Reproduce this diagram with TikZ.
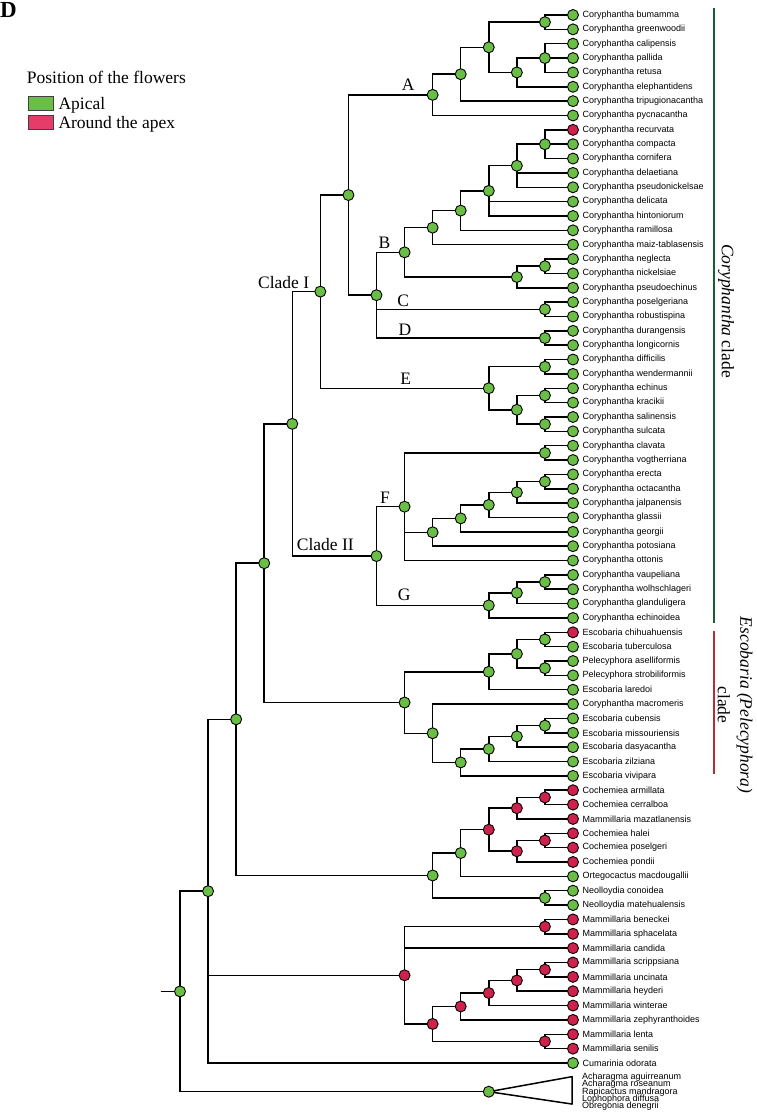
\documentclass[tikz,border=0pt]{standalone}
\usepackage{fontspec}
\setmainfont{Liberation Serif}
\newfontfamily\leaffont{Liberation Sans}
\usetikzlibrary{positioning,backgrounds}

\definecolor{apgreen}{RGB}{106,189,69}
\definecolor{apred}{RGB}{206,33,76}
\definecolor{keyred}{RGB}{230,60,105}
\definecolor{corygreen}{RGB}{26,94,56}
\definecolor{escored}{RGB}{183,45,55}

\tikzset{
  apical/.style={circle, draw=black, line width=0.9pt, fill=apgreen, minimum size=11pt, inner sep=0pt},
  apex/.style={apical, fill=apred},
  edge/.style={line width=1.5pt},
  leaflbl/.style={font=\leaffont\fontsize{9}{9}\selectfont, inner sep=1pt, anchor=west},
  cladelbl/.style={font=\fontsize{17.5}{18}\selectfont, inner sep=0pt, anchor=base},
  keybox/.style={draw=black!75, line width=0.8pt, minimum width=25pt, minimum height=14pt, inner sep=0pt, anchor=north west},
}

\begin{document}
\begin{tikzpicture}[x=1pt,y=-1pt]
\path[use as bounding box] (0,0) rectangle (756,1112);

% legend
\node[font=\bfseries\fontsize{23}{23}\selectfont, anchor=base west, inner sep=0pt] (panel) at (0,17) {D};
\node[anchor=base west, inner sep=0pt, font=\fontsize{17.5}{18}\selectfont] (keytitle) at (26.7,83) {Position of the flowers};
\node[keybox, fill=apgreen] (keyap) at (28.3,95.7) {};
\node[keybox, fill=keyred] (keyar) at (28.3,115) {};
\node[anchor=base west, inner sep=0pt, font=\fontsize{17.5}{18}\selectfont] (keyaptxt) at (58.3,109.3) {Apical};
\node[anchor=base west, inner sep=0pt, font=\fontsize{17.5}{18}\selectfont] (keyartxt) at (58.3,128.6) {Around the apex};

% tree: x in columns, y in leaf rows
\begin{scope}[x=28.07pt, y=-14.356pt, shift={(180pt,-0.644pt)}]
\foreach \i/\sp/\st in {
  1/Coryphantha bumamma/apical, 2/Coryphantha greenwoodii/apical,
  3/Coryphantha calipensis/apical, 4/Coryphantha pallida/apical,
  5/Coryphantha retusa/apical, 6/Coryphantha elephantidens/apical,
  7/Coryphantha tripugionacantha/apical, 8/Coryphantha pycnacantha/apical,
  9/Coryphantha recurvata/apex, 10/Coryphantha compacta/apical,
  11/Coryphantha cornifera/apical, 12/Coryphantha delaetiana/apical,
  13/Coryphantha pseudonickelsae/apical, 14/Coryphantha delicata/apical,
  15/Coryphantha hintoniorum/apical, 16/Coryphantha ramillosa/apical,
  17/Coryphantha maiz-tablasensis/apical, 18/Coryphantha neglecta/apical,
  19/Coryphantha nickelsiae/apical, 20/Coryphantha pseudoechinus/apical,
  21/Coryphantha poselgeriana/apical, 22/Coryphantha robustispina/apical,
  23/Coryphantha durangensis/apical, 24/Coryphantha longicornis/apical,
  25/Coryphantha difficilis/apical, 26/Coryphantha wendermannii/apical,
  27/Coryphantha echinus/apical, 28/Coryphantha kracikii/apical,
  29/Coryphantha salinensis/apical, 30/Coryphantha sulcata/apical,
  31/Coryphantha clavata/apical, 32/Coryphantha vogtherriana/apical,
  33/Coryphantha erecta/apical, 34/Coryphantha octacantha/apical,
  35/Coryphantha jalpanensis/apical, 36/Coryphantha glassii/apical,
  37/Coryphantha georgii/apical, 38/Coryphantha potosiana/apical,
  39/Coryphantha ottonis/apical, 40/Coryphantha vaupeliana/apical,
  41/Coryphantha wolhschlageri/apical, 42/Coryphantha glanduligera/apical,
  43/Coryphantha echinoidea/apical, 44/Escobaria chihuahuensis/apex,
  45/Escobaria tuberculosa/apical, 46/Pelecyphora aselliformis/apical,
  47/Pelecyphora strobiliformis/apical, 48/Escobaria laredoi/apical,
  49/Coryphantha macromeris/apical, 50/Escobaria cubensis/apical,
  51/Escobaria missouriensis/apical, 52/Escobaria dasyacantha/apical,
  53/Escobaria zilziana/apical, 54/Escobaria vivipara/apical,
  55/Cochemiea armillata/apex, 56/Cochemiea cerralboa/apex,
  57/Mammillaria mazatlanensis/apex, 58/Cochemiea halei/apex,
  59/Cochemiea poselgeri/apex, 60/Cochemiea pondii/apex,
  61/Ortegocactus macdougallii/apical, 62/Neolloydia conoidea/apical,
  63/Neolloydia matehualensis/apical, 64/Mammillaria beneckei/apex,
  65/Mammillaria sphacelata/apex, 66/Mammillaria candida/apex,
  67/Mammillaria scrippsiana/apex, 68/Mammillaria uncinata/apex,
  69/Mammillaria heyderi/apex, 70/Mammillaria winterae/apex,
  71/Mammillaria zephyranthoides/apex, 72/Mammillaria lenta/apex,
  73/Mammillaria senilis/apex, 74/Cumarinia odorata/apical}
{
  \node[\st] (l\i) at (14,\i) {};
  \node[leaflbl, right=2.5pt of l\i] (t\i) {\sp};
}

% internal nodes
\foreach \n/\x/\y/\st in {
  a1/13/1.5/apical, a2/13/4/apical, a3/12/5/apical, a4/11/3.25/apical,
  a5/10/5.125/apical, nA/9/6.5625/apical,
  b1/13/10/apical, b2/12/11.5/apical, b3/11/13.25/apical, b4/10/14.625/apical,
  b5/9/15.8125/apical, b6/13/18.5/apical, b7/12/19.25/apical, nB/8/17.53125/apical,
  nC/13/21.5/apical, nD/13/23.5/apical, nBCD/7/20.515625/apical, nAB/6/13.5390625/apical,
  e1/13/25.5/apical, e2/13/27.5/apical, e3/13/29.5/apical, e4/12/28.5/apical,
  nE/11/27/apical, cI/5/20.26953/apical,
  f1/13/31.5/apical, f2/13/33.5/apical, f3/12/34.25/apical, f4/11/35.125/apical,
  f5/10/36.0625/apical, f6/9/37.03125/apical, nF/8/35.25/apical,
  g1/13/40.5/apical, g2/12/41.25/apical, nG/11/42.125/apical,
  cII/7/38.6875/apical, cIII/4/29.47852/apical,
  s1/13/44.5/apical, s2/13/46.5/apical, s3/12/45.5/apical, s4/11/46.75/apical,
  s5/13/50.5/apical, s6/12/51.25/apical, s7/11/52.125/apical, s8/10/53.0625/apical,
  s9/9/51.03125/apical, nEsc/8/48.890625/apical, nCor/3/39.18457/apical,
  m1/13/55.5/apex, m2/12/56.25/apex, m3/13/58.5/apex, m4/12/59.25/apex,
  m5/11/57.75/apex, m6/10/59.375/apical, m7/13/62.5/apical, nCoch/9/60.9375/apical,
  n2/2/50.06104/apical,
  p1/13/64.5/apex, p2/13/67.5/apex, p3/12/68.25/apex, p4/11/69.125/apex,
  p5/10/70.0625/apex, p6/13/72.5/apex, p7/9/71.28125/apex, nMam/8/67.890625/apex,
  n1/1/62.03052/apical, nOut/11/76/apical, root/0/69.01526/apical}
  \node[\st] (\n) at (\x,\y) {};

\coordinate (stub) at (-0.69,69.01526);
\coordinate (otop) at (13.97,74.95);
\coordinate (obot) at (13.97,76.86);

% outgroup names inside the collapsed triangle
\foreach \j/\sp in {0/Acharagma aguirreanum, 1/Acharagma roseanum, 2/Rapicactus mandragora,
  3/Lophophora diffusa, 4/Obregonia denegrii}
  \node[leaflbl] (o\j) at (14.286,75+0.5*\j) {\sp};

\begin{scope}[on background layer]
\foreach \p/\c in {a1/l1, a1/l2, a2/l3, a2/l4, a2/l5, a3/a2, a3/l6, a4/a1, a4/a3,
  a5/a4, a5/l7, nA/a5, nA/l8,
  b1/l9, b1/l10, b1/l11, b2/b1, b2/l12, b2/l13, b3/b2, b3/l14, b3/l15, b4/b3, b4/l16,
  b5/b4, b5/l17, b6/l18, b6/l19, b7/b6, b7/l20, nB/b5, nB/b7, nC/l21, nC/l22,
  nD/l23, nD/l24, nBCD/nB, nBCD/nC, nBCD/nD, nAB/nA, nAB/nBCD,
  e1/l25, e1/l26, e2/l27, e2/l28, e3/l29, e3/l30, e4/e2, e4/e3, nE/e1, nE/e4,
  cI/nAB, cI/nE,
  f1/l31, f1/l32, f2/l33, f2/l34, f3/f2, f3/l35, f4/f3, f4/l36, f5/f4, f5/l37,
  f6/f5, f6/l38, nF/f1, nF/f6, nF/l39,
  g1/l40, g1/l41, g2/g1, g2/l42, nG/g2, nG/l43, cII/nF, cII/nG, cIII/cI, cIII/cII,
  s1/l44, s1/l45, s2/l46, s2/l47, s3/s1, s3/s2, s4/s3, s4/l48, s5/l50, s5/l51,
  s6/s5, s6/l52, s7/s6, s7/l53, s8/s7, s8/l54, s9/l49, s9/s8, nEsc/s4, nEsc/s9,
  nCor/cIII, nCor/nEsc,
  m1/l55, m1/l56, m2/m1, m2/l57, m3/l58, m3/l59, m4/m3, m4/l60, m5/m2, m5/m4,
  m6/m5, m6/l61, m7/l62, m7/l63, nCoch/m6, nCoch/m7, n2/nCor, n2/nCoch,
  p1/l64, p1/l65, p2/l67, p2/l68, p3/p2, p3/l69, p4/p3, p4/l70, p5/p4, p5/l71,
  p6/l72, p6/l73, p7/p5, p7/p6, nMam/p1, nMam/l66, nMam/p7,
  n1/n2, n1/nMam, n1/l74, root/n1, root/nOut}
  \draw[edge] (\p.center) |- (\c.center);
\draw[edge] (stub) -- (root.center);
\draw[edge, line join=round] (nOut.center) -- (otop) -- (obot) -- cycle;
\end{scope}
\end{scope}

% clade letters
\node[cladelbl] (labA) at (408.3,90.7) {A};
\node[cladelbl] (labB) at (384.5,248.3) {B};
\node[cladelbl] (labC) at (403.3,306) {C};
\node[cladelbl] (labD) at (405,335) {D};
\node[cladelbl] (labE) at (405.8,384) {E};
\node[cladelbl] (labF) at (385,503.3) {F};
\node[cladelbl] (labG) at (404.2,600) {G};
\node[cladelbl, anchor=base east] (labI) at (309.3,288.3) {Clade I};
\node[cladelbl] (labII) at (325.3,550.7) {Clade II};

% clade bars
\coordinate (corytop) at (714,8);
\coordinate (corybot) at (714,623);
\coordinate (escotop) at (714,631);
\coordinate (escobot) at (714,774);
\draw[corygreen, line width=2.6pt] (corytop) -- (corybot);
\draw[escored, line width=2.6pt] (escotop) -- (escobot);
\node[rotate=-90, inner sep=0pt, font=\fontsize{17.5}{18}\selectfont] (corylbl) at (726,311) {\textit{Coryphantha} clade};
\node[rotate=-90, inner sep=0pt, align=center, font=\fontsize{17.5}{22.5}\selectfont] (escolbl) at (735,705) {\textit{Escobaria (Pelecyphora)}\\clade};
\end{tikzpicture}
\end{document}
